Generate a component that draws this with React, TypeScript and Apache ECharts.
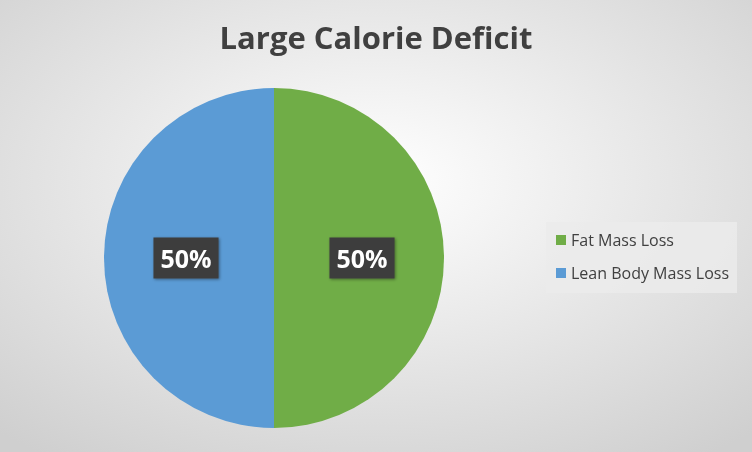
import React, { useEffect, useRef } from "react";
import * as echarts from "echarts";

const title = "Large Calorie Deficit";
const categories = ["Fat Mass Loss", "Lean Body Mass Loss"];
const values = [50, 50];
const colors = ["#70AD47", "#5B9BD5"];

export default function App() {
  const ref = useRef<HTMLDivElement>(null);
  useEffect(() => {
    const chart = echarts.init(ref.current!, null, { renderer: "svg" });
    chart.setOption({
      animation: false,
      backgroundColor: {
        type: "radial",
        x: 0.5,
        y: 0.4,
        r: 0.75,
        colorStops: [
          { offset: 0, color: "#ffffff" },
          { offset: 1, color: "#cfcfcf" },
        ],
      },
      title: {
        text: title,
        left: "center",
        top: 16,
        textStyle: {
          fontFamily: "Open Sans",
          fontWeight: "bold",
          fontSize: 31,
          color: "#404040",
        },
      },
      legend: {
        orient: "vertical",
        left: 546,
        top: 222,
        width: 191,
        padding: [10, 8, 12, 10],
        itemGap: 17,
        itemWidth: 10,
        itemHeight: 10,
        icon: "rect",
        backgroundColor: "rgba(235,235,235,0.85)",
        textStyle: { fontFamily: "Open Sans", fontSize: 16, color: "#404040" },
        data: categories,
      },
      series: [
        {
          type: "pie",
          center: [274, 258],
          radius: [0, 170],
          startAngle: 90,
          clockwise: true,
          label: {
            show: true,
            position: "inside",
            formatter: (p: any) => Math.round(p.percent) + "%",
            fontFamily: "Open Sans",
            fontWeight: "bold",
            fontSize: 25,
            color: "#ffffff",
            backgroundColor: "#3d3d3d",
            padding: [9, 7, 7, 7],
            shadowColor: "rgba(0,0,0,0.4)",
            shadowBlur: 3,
            shadowOffsetX: 1,
            shadowOffsetY: 1,
          },
          labelLine: { show: false },
          itemStyle: { borderColor: "#ffffff", borderWidth: 0 },
          emphasis: { disabled: true },
          data: categories.map((c, i) => ({
            name: c,
            value: values[i],
            itemStyle: { color: colors[i] },
          })),
        },
      ],
    });
    return () => chart.dispose();
  }, []);
  return (
    <div
      ref={ref}
      style={{ position: "fixed", left: 0, top: 0, width: 752, height: 452 }}
    />
  );
}
